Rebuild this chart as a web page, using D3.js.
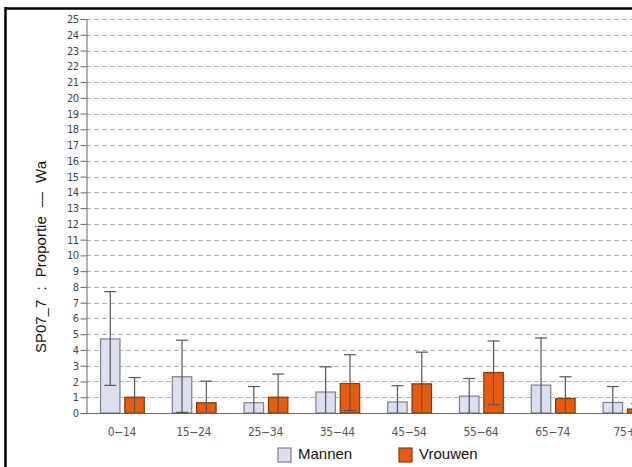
<!DOCTYPE html>
<html>
<head>
<meta charset="utf-8">
<script src="https://cdn.jsdelivr.net/npm/d3@7"></script>
<style>
  html, body { margin: 0; padding: 0; background: #fff; }
  svg { display: block; overflow: hidden; }
</style>
</head>
<body>
<svg id="chart" width="632" height="467"></svg>
<script>
// Age groups and series
const categories = ["0−14", "15−24", "25−34", "35−44", "45−54", "55−64", "65−74", "75+"];
const seriesNames = ["Mannen", "Vrouwen"];
const mannen    = [4.7, 2.3, 0.65, 1.33, 0.7, 1.07, 1.77, 0.67];
const mannenHi  = [7.7, 4.62, 1.68, 2.93, 1.73, 2.19, 4.76, 1.68];
const mannenLo  = [1.75, 0.04, 0, 0, 0, 0, 0, 0];
const vrouwen   = [1.0, 0.65, 1.0, 1.87, 1.85, 2.57, 0.92, 0.25];
const vrouwenHi = [2.25, 2.02, 2.47, 3.7, 3.86, 4.57, 2.3, 0.6];
const vrouwenLo = [0, 0, 0, 0.15, 0, 0.53, 0, 0];
const yTicks = d3.range(0, 26);
const yTitle = "SP07_7 : Proportie — Wa";

const colors = { Mannen: "#dcdff0", Vrouwen: "#e85b0e" };
const strokes = { Mannen: "#7d7d86", Vrouwen: "#7a3c14" };

const svg = d3.select("#chart");
const plotLeft = 86, plotBottom = 413, plotTop = 19;
const step = 71.8;

const x = d3.scaleBand().domain(categories)
  .range([plotLeft, plotLeft + step * categories.length]).paddingInner(0).paddingOuter(0);
const xs = d3.scaleBand().domain(seriesNames)
  .range([14, step - 14]).paddingInner(0.2);
const y = d3.scaleLinear().domain([0, 25]).range([plotBottom, plotTop]);

// frame
svg.append("line").attr("x1", 5).attr("x2", 632).attr("y1", 8.5).attr("y2", 8.5)
  .attr("stroke", "#000").attr("stroke-width", 2.5);
svg.append("line").attr("x1", 5.5).attr("x2", 5.5).attr("y1", 7).attr("y2", 467)
  .attr("stroke", "#000").attr("stroke-width", 2.5);

// dashed grid
svg.append("g").selectAll("line").data(yTicks.filter(d => d > 0)).join("line")
  .attr("x1", plotLeft).attr("x2", 632)
  .attr("y1", d => Math.round(y(d)) + 0.5).attr("y2", d => Math.round(y(d)) + 0.5)
  .attr("stroke", "#b0b0b0").attr("stroke-width", 1.2).attr("stroke-dasharray", "5,3");

// y axis
const yAxis = d3.axisLeft(y).tickValues(yTicks).tickSize(6).tickPadding(2).tickFormat(d3.format("d"));
const gy = svg.append("g").attr("transform", `translate(${plotLeft + 0.5},0)`).call(yAxis);
gy.select(".domain").attr("stroke", "#666");
gy.selectAll(".tick line").attr("stroke", "#666");
gy.selectAll(".tick text").attr("fill", "#444")
  .style("font-family", "'Liberation Sans Narrow', 'DejaVu Sans Condensed', Arial, sans-serif")
  .style("font-size", "11px").style("letter-spacing", "-0.5px");

// bars
const rows = categories.map((c, i) => [
  { cat: c, s: "Mannen", v: mannen[i], hi: mannenHi[i], lo: mannenLo[i] },
  { cat: c, s: "Vrouwen", v: vrouwen[i], hi: vrouwenHi[i], lo: vrouwenLo[i] }
]).flat();

const g = svg.append("g");
g.selectAll("rect").data(rows).join("rect")
  .attr("x", d => x(d.cat) + xs(d.s) + 0.5)
  .attr("y", d => y(d.v))
  .attr("width", xs.bandwidth())
  .attr("height", d => y(0) - y(d.v))
  .attr("fill", d => colors[d.s])
  .attr("stroke", d => strokes[d.s]).attr("stroke-width", 1.2);

// error bars
const cx = d => x(d.cat) + xs(d.s) + xs.bandwidth() / 2 + 0.5;
const eb = svg.append("g").attr("stroke", "#555").attr("stroke-width", 1.2);
eb.selectAll(".v").data(rows).join("line")
  .attr("x1", cx).attr("x2", cx)
  .attr("y1", d => y(d.hi)).attr("y2", d => y(d.lo));
eb.selectAll(".hc").data(rows).join("line")
  .attr("x1", d => cx(d) - 6).attr("x2", d => cx(d) + 6)
  .attr("y1", d => y(d.hi)).attr("y2", d => y(d.hi));
eb.selectAll(".lc").data(rows.filter(d => d.lo > 0)).join("line")
  .attr("x1", d => cx(d) - 6).attr("x2", d => cx(d) + 6)
  .attr("y1", d => y(d.lo)).attr("y2", d => y(d.lo));

// x axis
svg.append("line").attr("x1", plotLeft).attr("x2", 632)
  .attr("y1", plotBottom + 0.5).attr("y2", plotBottom + 0.5).attr("stroke", "#666").attr("stroke-width", 1.2);
svg.append("g").selectAll("text").data(categories).join("text")
  .attr("x", d => x(d) + x.bandwidth() / 2)
  .attr("y", 436)
  .attr("text-anchor", "middle").attr("fill", "#555")
  .style("font-family", "'Liberation Sans Narrow', 'DejaVu Sans Condensed', Arial, sans-serif")
  .style("font-size", "12px").style("letter-spacing", "-0.3px")
  .text(d => d);

// y title
svg.append("text")
  .attr("transform", "translate(46,257) rotate(-90)")
  .attr("text-anchor", "middle").attr("fill", "#111")
  .style("font-family", "'Liberation Sans', Arial, sans-serif").style("font-size", "15px")
  .style("word-spacing", "5px")
  .text(yTitle);

// legend
const legendX = [278, 399];
const lg = svg.append("g").selectAll("g").data(seriesNames).join("g")
  .attr("transform", (d, i) => `translate(${legendX[i]},448)`);
lg.append("rect").attr("width", 13).attr("height", 14)
  .attr("fill", d => colors[d]).attr("stroke", d => strokes[d]).attr("stroke-width", 1.2);
lg.append("text").attr("x", 20).attr("y", 11).attr("fill", "#111")
  .style("font-family", "'Liberation Sans', Arial, sans-serif").style("font-size", "15px")
  .text(d => d);
</script>
</body>
</html>
